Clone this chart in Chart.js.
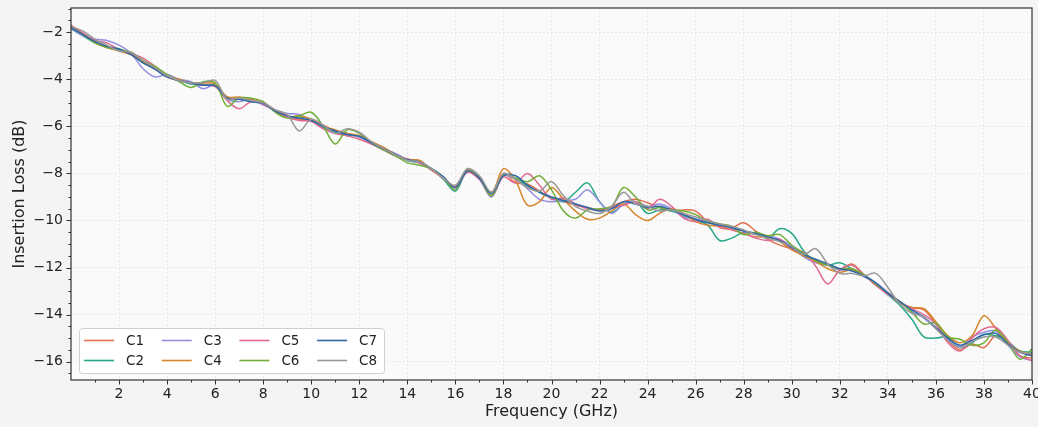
<!DOCTYPE html>
<html>
<head>
<meta charset="utf-8">
<script src="https://cdn.jsdelivr.net/npm/chart.js@4.4.1/dist/chart.umd.min.js"></script>
<style>
  html, body { margin: 0; padding: 0; background: #f4f4f4; }
  #wrap { width: 1038px; height: 427px; }
</style>
</head>
<body>
<div id="wrap"><canvas id="myChart" width="1038" height="427"></canvas></div>
<script>
// frequency points (GHz), every 0.5 GHz
let freq = [0, 0.5, 1, 1.5, 2, 2.5, 3, 3.5, 4, 4.5, 5, 5.5, 6, 6.5, 7, 7.5, 8, 8.5, 9, 9.5,
    10, 10.5, 11, 11.5, 12, 12.5, 13, 13.5, 14, 14.5, 15, 15.5, 16, 16.5, 17, 17.5, 18, 18.5, 19, 19.5,
    20, 20.5, 21, 21.5, 22, 22.5, 23, 23.5, 24, 24.5, 25, 25.5, 26, 26.5, 27, 27.5, 28, 28.5, 29, 29.5,
    30, 30.5, 31, 31.5, 32, 32.5, 33, 33.5, 34, 34.5, 35, 35.5, 36, 36.5, 37, 37.5, 38, 38.5, 39, 39.5, 40];

let seriesNames = ['C1', 'C2', 'C3', 'C4', 'C5', 'C6', 'C7', 'C8'];
let seriesColors = ['#e2704f', '#27a888', '#9390e2', '#d6862c', '#e2688f', '#70ae35', '#2e67a8', '#999999'];

// insertion loss (dB)
let c1 = [-1.75, -2.05, -2.40, -2.65, -2.75, -2.90, -3.25, -3.55, -3.90, -4.05, -4.15, -4.20, -4.30, -4.75, -4.80, -4.90, -5.00, -5.30, -5.55, -5.70,
    -5.75, -5.95, -6.20, -6.30, -6.45, -6.65, -6.90, -7.20, -7.40, -7.45, -7.85, -8.20, -8.55, -7.95, -8.25, -8.80, -8.00, -8.40, -8.45, -8.75,
    -9.05, -9.20, -9.35, -9.45, -9.55, -9.40, -9.20, -9.10, -9.25, -9.45, -9.60, -9.55, -9.60, -10.05, -10.20, -10.30, -10.10, -10.45, -10.80, -11.05,
    -11.20, -11.40, -11.70, -11.85, -12.10, -11.85, -12.30, -12.75, -13.05, -13.50, -13.70, -13.80, -14.40, -15.10, -15.50, -15.25, -15.40, -14.90, -15.20, -15.75, -15.85];
let c2 = [-1.85, -2.15, -2.45, -2.60, -2.70, -2.95, -3.30, -3.55, -3.90, -4.05, -4.20, -4.25, -4.25, -4.85, -4.85, -4.95, -5.05, -5.35, -5.60, -5.60,
    -5.70, -6.05, -6.25, -6.40, -6.40, -6.70, -6.95, -7.20, -7.45, -7.55, -7.80, -8.25, -8.75, -7.90, -8.20, -8.95, -8.10, -8.20, -8.55, -8.80,
    -9.05, -9.20, -8.80, -8.40, -9.20, -9.65, -9.30, -9.20, -9.70, -9.55, -9.60, -9.80, -10.00, -10.20, -10.85, -10.75, -10.50, -10.55, -10.75, -10.35,
    -10.55, -11.30, -11.75, -11.90, -11.80, -12.05, -12.30, -12.70, -13.15, -13.60, -14.20, -14.95, -15.00, -14.95, -15.40, -15.20, -14.85, -14.90, -15.15, -15.55, -15.60];
let c3 = [-1.85, -2.15, -2.30, -2.35, -2.55, -2.90, -3.55, -3.90, -3.80, -4.00, -4.10, -4.40, -4.25, -4.85, -4.95, -4.85, -5.10, -5.30, -5.45, -5.50,
    -5.75, -6.00, -6.20, -6.30, -6.45, -6.70, -6.95, -7.15, -7.40, -7.55, -7.80, -8.15, -8.70, -7.90, -8.25, -9.00, -8.10, -8.25, -8.65, -9.10,
    -9.20, -9.15, -9.10, -8.70, -9.20, -9.70, -9.30, -9.20, -9.40, -9.30, -9.50, -9.85, -9.95, -10.05, -10.20, -10.35, -10.45, -10.60, -10.65, -10.80,
    -11.10, -11.55, -11.80, -11.90, -12.10, -12.10, -12.40, -12.65, -13.05, -13.45, -13.85, -14.15, -14.60, -15.05, -15.35, -14.95, -14.75, -14.70, -15.30, -15.80, -15.95];
let c4 = [-1.75, -2.10, -2.45, -2.65, -2.80, -2.95, -3.25, -3.50, -3.85, -4.00, -4.15, -4.15, -4.20, -4.75, -4.75, -4.85, -5.00, -5.35, -5.60, -5.55,
    -5.70, -6.00, -6.15, -6.30, -6.40, -6.65, -6.90, -7.20, -7.40, -7.45, -7.85, -8.20, -8.60, -7.85, -8.15, -8.85, -7.80, -8.30, -9.35, -9.20,
    -8.60, -9.10, -9.60, -9.95, -9.90, -9.60, -9.30, -9.75, -10.00, -9.70, -9.50, -9.70, -10.05, -10.20, -10.25, -10.40, -10.55, -10.70, -10.70, -10.90,
    -11.25, -11.50, -11.75, -12.05, -12.20, -12.10, -12.30, -12.75, -13.10, -13.50, -13.70, -13.75, -14.30, -14.90, -15.20, -14.90, -14.05, -14.60, -15.20, -15.55, -15.70];
let c5 = [-1.70, -2.05, -2.35, -2.45, -2.75, -2.90, -3.10, -3.45, -3.90, -4.05, -4.15, -4.25, -4.30, -4.90, -5.25, -4.95, -5.05, -5.35, -5.60, -5.75,
    -5.80, -6.10, -6.30, -6.40, -6.55, -6.75, -7.00, -7.25, -7.40, -7.55, -7.85, -8.20, -8.55, -7.95, -8.25, -8.95, -8.15, -8.40, -8.00, -8.50,
    -9.10, -9.05, -9.30, -9.50, -9.55, -9.45, -9.35, -9.20, -9.50, -9.10, -9.40, -9.90, -10.05, -9.95, -10.30, -10.40, -10.55, -10.75, -10.85, -10.80,
    -11.20, -11.35, -11.95, -12.70, -12.10, -11.90, -12.30, -12.75, -13.15, -13.45, -13.75, -14.00, -14.40, -15.20, -15.55, -15.00, -14.60, -14.55, -15.10, -15.75, -15.95];
let c6 = [-1.80, -2.10, -2.45, -2.65, -2.75, -2.85, -3.20, -3.45, -3.80, -4.10, -4.35, -4.10, -4.15, -5.15, -4.80, -4.80, -4.95, -5.40, -5.65, -5.55,
    -5.40, -6.00, -6.75, -6.15, -6.30, -6.70, -7.00, -7.25, -7.55, -7.65, -7.80, -8.15, -8.70, -7.80, -8.20, -8.95, -8.05, -8.20, -8.35, -8.10,
    -8.70, -9.60, -9.90, -9.55, -9.50, -9.40, -8.60, -9.00, -9.55, -9.45, -9.55, -9.60, -9.75, -10.05, -10.15, -10.25, -10.60, -10.50, -10.65, -10.60,
    -11.05, -11.40, -11.70, -11.90, -12.05, -12.05, -12.30, -12.70, -13.10, -13.45, -13.90, -14.40, -14.35, -14.95, -15.05, -15.30, -15.20, -14.65, -15.20, -15.90, -15.45];
let c7 = [-1.80, -2.10, -2.40, -2.60, -2.72, -2.95, -3.30, -3.58, -3.90, -4.05, -4.15, -4.25, -4.28, -4.80, -4.85, -4.95, -5.02, -5.35, -5.55, -5.65,
    -5.75, -6.00, -6.20, -6.35, -6.42, -6.70, -6.95, -7.20, -7.42, -7.50, -7.80, -8.15, -8.60, -7.90, -8.20, -8.85, -8.10, -8.10, -8.50, -8.80,
    -9.00, -9.15, -9.30, -9.45, -9.60, -9.50, -9.20, -9.30, -9.45, -9.40, -9.55, -9.75, -9.95, -10.10, -10.20, -10.30, -10.45, -10.55, -10.70, -10.85,
    -11.15, -11.45, -11.65, -11.85, -12.05, -12.15, -12.35, -12.65, -13.10, -13.45, -13.80, -14.10, -14.55, -15.00, -15.30, -15.10, -14.85, -14.80, -15.25, -15.60, -15.75];
let c8 = [-1.75, -1.95, -2.30, -2.55, -2.80, -2.85, -3.20, -3.50, -3.85, -4.05, -4.15, -4.15, -4.05, -4.85, -4.80, -4.90, -5.00, -5.30, -5.50, -6.20,
    -5.70, -5.95, -6.30, -6.10, -6.25, -6.65, -6.95, -7.20, -7.45, -7.50, -7.80, -8.20, -8.50, -7.80, -8.10, -8.80, -8.00, -8.25, -8.60, -8.75,
    -8.35, -8.95, -9.40, -9.60, -9.70, -9.40, -8.80, -9.30, -9.40, -9.60, -9.55, -9.70, -9.85, -10.00, -10.15, -10.25, -10.40, -10.60, -10.75, -10.90,
    -11.10, -11.45, -11.20, -11.85, -12.25, -12.25, -12.35, -12.25, -12.85, -13.55, -13.95, -14.10, -14.60, -15.10, -15.40, -15.15, -14.95, -14.95, -15.30, -15.60, -15.65];

let seriesValues = [c1, c2, c3, c4, c5, c6, c7, c8];

let xMajor = [2, 4, 6, 8, 10, 12, 14, 16, 18, 20, 22, 24, 26, 28, 30, 32, 34, 36, 38, 40];
let yMajor = [-16, -14, -12, -10, -8, -6, -4, -2];

const FONT = "'DejaVu Sans', sans-serif";

function minusSign(v) {
    return v < 0 ? '\u2212' + Math.abs(v) : String(v);
}

// background of the plot area + frame, minor/major ticks and the legend box
const frameAndLegend = {
    id: 'frameAndLegend',
    beforeDraw(chart) {
        let a = chart.chartArea, ctx = chart.ctx;
        ctx.save();
        ctx.fillStyle = '#fafafa';
        ctx.fillRect(a.left, a.top, a.right - a.left, a.bottom - a.top);
        ctx.restore();
    },
    afterDraw(chart) {
        let a = chart.chartArea, ctx = chart.ctx;
        let xs = chart.scales.x, ys = chart.scales.y;
        ctx.save();
        ctx.strokeStyle = '#333';
        ctx.lineWidth = 1.2;
        ctx.strokeRect(a.left, a.top, a.right - a.left, a.bottom - a.top);

        ctx.lineWidth = 1;
        ctx.beginPath();
        for (let f = 1; f <= 40; f++) {
            let px = Math.round(xs.getPixelForValue(f)) + 0.5;
            let len = f % 2 === 0 ? 4.5 : 2.5;
            ctx.moveTo(px, a.bottom);
            ctx.lineTo(px, a.bottom + len);
        }
        for (let v = -16.5; v <= -1; v += 0.5) {
            let py = Math.round(ys.getPixelForValue(v)) + 0.5;
            let len = v % 2 === 0 ? 4.5 : 2.5;
            ctx.moveTo(a.left, py);
            ctx.lineTo(a.left - len, py);
        }
        ctx.stroke();

        // legend: 4 columns x 2 rows, filled column by column
        let bx = a.left + 8, by = a.bottom - 52, bw = 305, bh = 45;
        ctx.fillStyle = 'rgba(255,255,255,0.85)';
        ctx.strokeStyle = '#d0d0d0';
        ctx.lineWidth = 1;
        ctx.beginPath();
        ctx.roundRect(bx + 0.5, by + 0.5, bw, bh, 3);
        ctx.fill();
        ctx.stroke();
        ctx.font = '13.5px ' + FONT;
        ctx.textBaseline = 'middle';
        ctx.fillStyle = '#222';
        seriesNames.forEach((name, i) => {
            let col = Math.floor(i / 2), row = i % 2;
            let lx = bx + 5 + col * 77.7;
            let ly = by + 12.5 + row * 20;
            ctx.strokeStyle = seriesColors[i];
            ctx.lineWidth = 1.6;
            ctx.beginPath();
            ctx.moveTo(lx, ly);
            ctx.lineTo(lx + 30, ly);
            ctx.stroke();
            ctx.fillText(name, lx + 42, ly + 1);
        });
        ctx.restore();
    }
};

function loadChart() {
    let ctx = document.getElementById('myChart').getContext('2d');
    let datasets = seriesNames.map((name, i) => ({
        label: name,
        data: freq.map((f, j) => ({ x: f, y: seriesValues[i][j] })),
        borderColor: seriesColors[i],
        borderWidth: 1.5,
        pointRadius: 0,
        tension: 0.35,
        fill: false,
        order: 8 - i
    }));
    return new Chart(ctx, {
        type: 'line',
        data: { datasets: datasets },
        plugins: [frameAndLegend],
        options: {
            responsive: false,
            animation: false,
            layout: { padding: { top: 8, right: 6, left: 0, bottom: 0 } },
            plugins: {
                legend: { display: false },
                tooltip: { enabled: false }
            },
            scales: {
                x: {
                    type: 'linear',
                    min: 0,
                    max: 40,
                    afterFit: s => { s.height = 47; s.paddingLeft = 0; s.paddingRight = 0; },
                    afterBuildTicks: s => { s.ticks = xMajor.map(v => ({ value: v })); },
                    ticks: {
                        color: '#222',
                        font: { family: FONT, size: 14 },
                        padding: 6,
                        maxRotation: 0,
                        callback: v => String(v)
                    },
                    grid: { color: '#e2e2e2', lineWidth: 0.8, drawTicks: false },
                    border: { display: false, dash: [2, 2] },
                    title: {
                        display: true,
                        text: 'Frequency (GHz)',
                        color: '#222',
                        font: { family: FONT, size: 16 },
                        padding: { top: 0, bottom: 6 }
                    }
                },
                y: {
                    min: -16.78,
                    max: -0.97,
                    afterFit: s => { s.width = 71; s.paddingTop = 0; s.paddingBottom = 0; },
                    afterBuildTicks: s => { s.ticks = yMajor.map(v => ({ value: v })); },
                    ticks: {
                        color: '#222',
                        font: { family: FONT, size: 14 },
                        padding: 8,
                        callback: v => minusSign(v)
                    },
                    grid: { color: '#e2e2e2', lineWidth: 0.8, drawTicks: false },
                    border: { display: false, dash: [2, 2] },
                    title: {
                        display: true,
                        text: 'Insertion Loss (dB)',
                        color: '#222',
                        font: { family: FONT, size: 16 },
                        padding: { top: 10, bottom: 0 }
                    }
                }
            }
        }
    });
}

let chart = loadChart();
</script>
</body>
</html>
